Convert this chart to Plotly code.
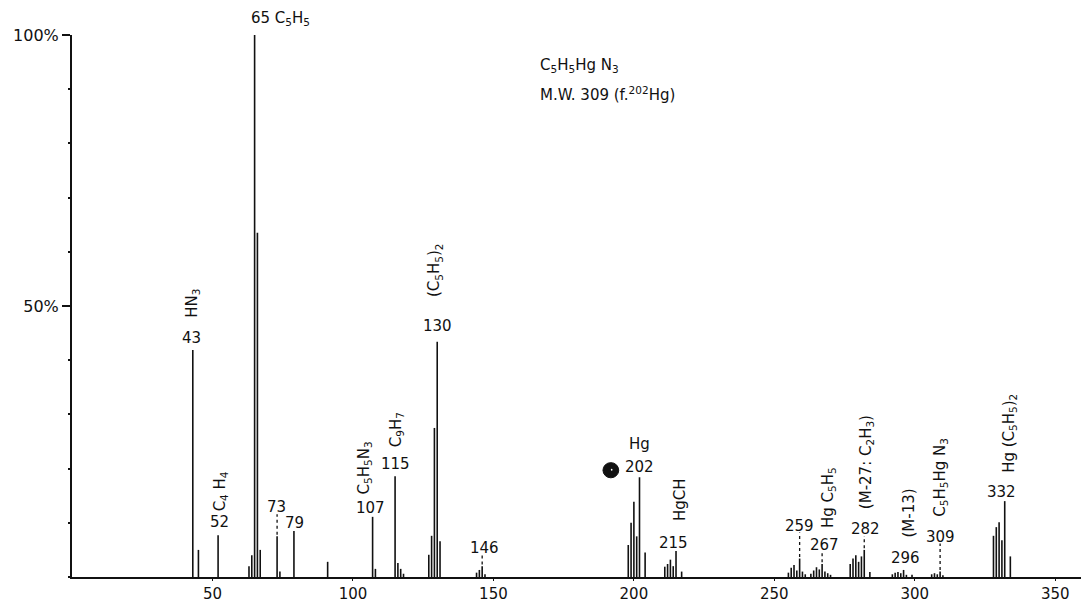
import plotly.graph_objects as go

# ---- data (m/z, relative intensity %) ----
mz = [43, 45, 52, 63, 64, 65, 66, 67, 73, 74, 79, 91,
      107, 108, 115, 116, 117, 118, 127, 128, 129, 130, 131,
      144, 145, 146, 147,
      198, 199, 200, 201, 202, 204,
      211, 212, 213, 214, 215, 217,
      255, 256, 257, 258, 259, 260, 261,
      263, 264, 265, 266, 267, 268, 269, 270,
      277, 278, 279, 280, 281, 282, 284,
      292, 293, 294, 295, 296, 297, 299,
      306, 307, 308, 309, 310,
      328, 329, 330, 331, 332, 334]
intensity = [41.9, 5.0, 7.7, 2.0, 4.0, 100, 63.5, 5.0, 7.5, 1.0, 8.5, 2.8,
             11.1, 1.5, 18.6, 2.6, 1.5, 0.6, 4.1, 7.6, 27.5, 43.4, 6.6,
             0.8, 1.3, 2.0, 0.5,
             5.9, 10.0, 13.9, 7.5, 18.4, 4.5,
             1.9, 2.4, 3.2, 2.0, 4.8, 1.0,
             0.8, 1.7, 2.2, 1.2, 3.4, 1.0, 0.5,
             0.6, 1.2, 1.8, 1.4, 2.4, 1.0, 0.7, 0.4,
             2.4, 3.4, 4.0, 2.8, 3.8, 5.0, 0.9,
             0.5, 0.8, 0.9, 0.7, 1.3, 0.4, 0.4,
             0.5, 0.7, 0.5, 1.0, 0.3,
             7.6, 9.2, 10.1, 6.8, 14.0, 3.8]

x_ticks = [50, 100, 150, 200, 250, 300, 350]
y_tickvals = [50, 100]
y_ticktext = ["50%", "100%"]

# number labels: (m/z, text)
number_labels = [(43, "43"), (52, "52"), (73, "73"), (79, "79"), (107, "107"),
                 (115, "115"), (130, "130"), (146, "146"), (202, "202"),
                 (215, "215"), (259, "259"), (267, "267"), (282, "282"),
                 (296, "296"), (309, "309"), (332, "332")]
# ion formula labels (vertical): (m/z, text)
formula_labels = [(43, "HN<sub>3</sub>"),
                  (52, "C<sub>4</sub> H<sub>4</sub>"),
                  (107, "C<sub>5</sub>H<sub>5</sub>N<sub>3</sub>"),
                  (115, "C<sub>9</sub>H<sub>7</sub>"),
                  (130, "(C<sub>5</sub>H<sub>5</sub>)<sub>2</sub>"),
                  (215, "HgCH"),
                  (267, "Hg C<sub>5</sub>H<sub>5</sub>"),
                  (282, "(M-27: C<sub>2</sub>H<sub>3</sub>)"),
                  (296, "(M-13)"),
                  (309, "C<sub>5</sub>H<sub>5</sub>Hg N<sub>3</sub>"),
                  (332, "Hg (C<sub>5</sub>H<sub>5</sub>)<sub>2</sub>")]
dotted_peaks = [73, 146, 259, 267, 282, 309]
title_lines = ["C<sub>5</sub>H<sub>5</sub>Hg N<sub>3</sub>",
               "M.W. 309 (f.<sup>202</sup>Hg)"]

# ---- layout / style (pixel offsets) ----
# the page body adds an 8px margin, so the figure is sized to fit the window
W, H = 1081, 595
M_L, M_R, M_T, M_B = 64, 0, 27, 26
PLOT_H = H - M_T - M_B
PX_PER_PCT = PLOT_H / 100.0
INK = "#111111"
FONT = "DejaVu Sans"

num_offsets = {43: (-1, 12), 52: (1, 13), 73: (-1, 29), 79: (1, 8), 107: (-2, 9),
               115: (0, 12), 130: (0, 16), 146: (2, 18), 202: (0, 10),
               215: (-3, 8), 259: (0, 33), 267: (2, 19), 282: (1, 21),
               296: (2, 12), 309: (0, 35), 332: (-3, 9)}
form_offsets = {43: (0, 47), 52: (2, 44), 107: (-8, 49), 115: (1, 46),
                130: (-2, 72), 215: (4, 51), 267: (7, 66), 282: (3, 88),
                296: (5, 57), 309: (0, 94), 332: (4, 68)}

val = dict(zip(mz, intensity))

xs, ys = [], []
for m, v in zip(mz, intensity):
    xs += [m, m, None]
    ys += [0, v, None]

fig = go.Figure()
fig.add_trace(go.Scatter(x=xs, y=ys, mode="lines",
                         line=dict(color=INK, width=1.6),
                         hoverinfo="skip", showlegend=False))

ann = []
for m, t in number_labels:
    dx, dy = num_offsets[m]
    ann.append(dict(x=m, y=val[m], xref="x", yref="y", text=t, showarrow=False,
                    xanchor="center", yanchor="middle", xshift=dx, yshift=dy,
                    font=dict(family=FONT, size=15, color=INK)))
for m, t in formula_labels:
    dx, dy = form_offsets[m]
    ann.append(dict(x=m, y=val[m], xref="x", yref="y", text=t, showarrow=False,
                    textangle=-90, xanchor="center", yanchor="middle",
                    xshift=dx, yshift=dy,
                    font=dict(family=FONT, size=15, color=INK)))
# base peak label and Hg label
ann.append(dict(x=65, y=val[65], xref="x", yref="y",
                text="65 C<sub>5</sub>H<sub>5</sub>", showarrow=False,
                xanchor="center", yanchor="middle", xshift=26, yshift=17,
                font=dict(family=FONT, size=15, color=INK)))
ann.append(dict(x=202, y=val[202], xref="x", yref="y", text="Hg", showarrow=False,
                xanchor="center", yanchor="middle", xshift=0, yshift=33,
                font=dict(family=FONT, size=15, color=INK)))
# compound title (anchored in data space)
ann.append(dict(x=165.7, y=94.3, xref="x", yref="y", text=title_lines[0],
                showarrow=False, xanchor="left", yanchor="middle",
                font=dict(family=FONT, size=15, color=INK)))
ann.append(dict(x=165.7, y=89.1, xref="x", yref="y", text=title_lines[1],
                showarrow=False, xanchor="left", yanchor="middle",
                font=dict(family=FONT, size=15, color=INK)))

shapes = []
for m in dotted_peaks:
    dy = num_offsets[m][1]
    shapes.append(dict(type="line", xref="x", yref="y",
                       x0=m, x1=m, y0=val[m] + 0.3,
                       y1=val[m] + (dy - 7) / PX_PER_PCT,
                       line=dict(color=INK, width=1.3, dash="dot")))
# ink blot left of the Hg label
shapes.append(dict(type="circle", xref="x", yref="y", x0=189.0, x1=194.6,
                   y0=18.3, y1=21.1, fillcolor=INK, line=dict(color=INK, width=1)))
shapes.append(dict(type="circle", xref="x", yref="y", x0=191.8, x1=192.4,
                   y0=19.6, y1=19.95, fillcolor="white", line=dict(width=0)))

fig.update_layout(
    template="none",
    width=W, height=H,
    margin=dict(l=M_L, r=M_R, t=M_T, b=M_B, pad=0),
    paper_bgcolor="white", plot_bgcolor="white",
    annotations=ann, shapes=shapes, showlegend=False,
    xaxis=dict(range=[0, 362], tickvals=x_ticks, ticks="outside", ticklen=2,
               tickcolor=INK, showline=True, linecolor=INK, linewidth=2,
               showgrid=False, zeroline=False, automargin=False,
               tickfont=dict(family=FONT, size=15, color=INK)),
    yaxis=dict(range=[0, 100], tickvals=y_tickvals, ticktext=y_ticktext,
               ticks="outside", ticklen=8, tickwidth=1.5, tickcolor=INK,
               showline=True, linecolor=INK, linewidth=2,
               showgrid=False, zeroline=False, automargin=False,
               minor=dict(dtick=10, ticks="outside", ticklen=2, tickcolor=INK),
               tickfont=dict(family=FONT, size=16, color=INK)),
)

fig.write_html("out.html")
